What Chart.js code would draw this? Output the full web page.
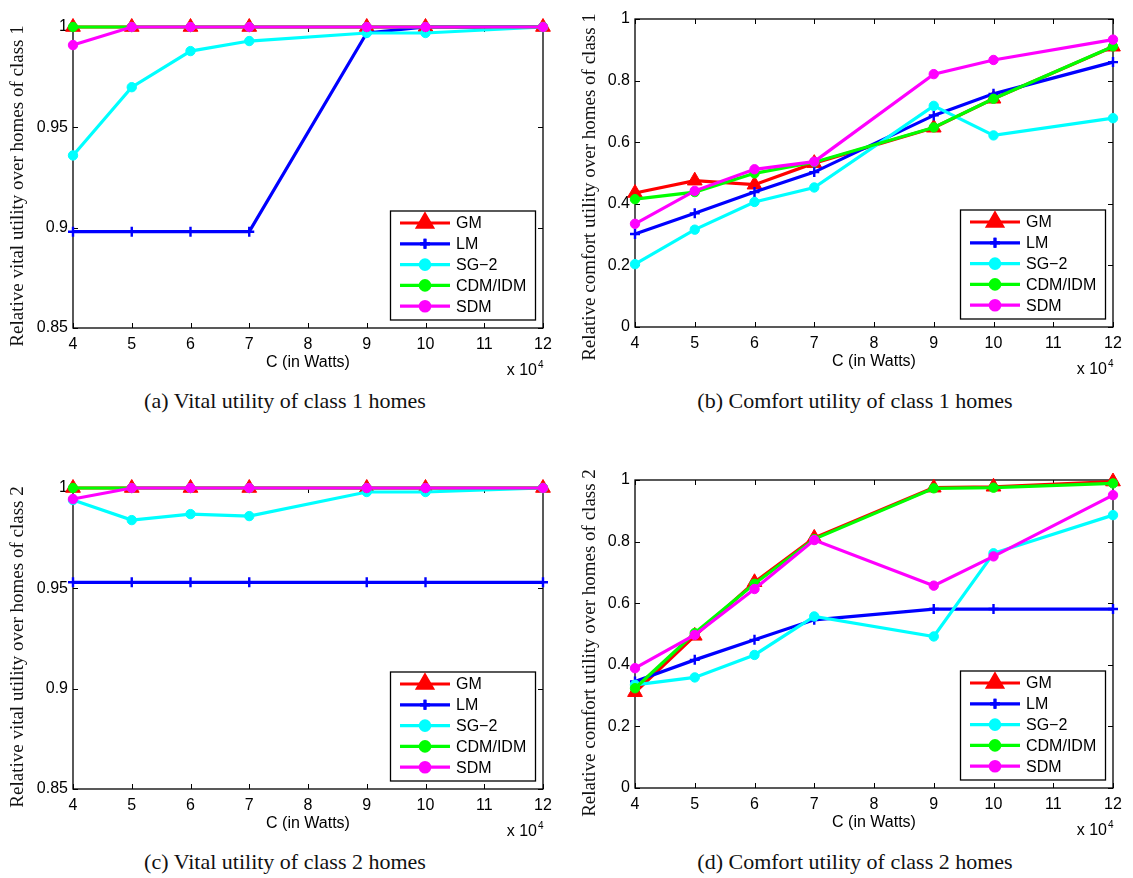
<!DOCTYPE html>
<html><head><meta charset="utf-8">
<script src="https://cdn.jsdelivr.net/npm/chart.js@4/dist/chart.umd.min.js"></script>
<style>
body{margin:0;background:#fff;width:1133px;height:878px;position:relative;overflow:hidden;}
.panel{position:absolute;}
canvas{display:block;}
.cap{position:absolute;font-family:"Liberation Serif",serif;font-size:22px;color:#111;white-space:nowrap;transform:translate(-50%,-50%);line-height:1;}
</style></head><body>
<div class="panel" style="left:0;top:0;width:566px;height:385px"><canvas id="ca" width="566" height="385"></canvas></div>
<div class="panel" style="left:566px;top:0;width:567px;height:385px"><canvas id="cb" width="567" height="385"></canvas></div>
<div class="panel" style="left:0;top:440px;width:566px;height:405px"><canvas id="cc" width="566" height="405"></canvas></div>
<div class="panel" style="left:566px;top:440px;width:567px;height:405px"><canvas id="cd" width="567" height="405"></canvas></div>
<div class="cap" style="left:285px;top:401px">(a) Vital utility of class 1 homes</div>
<div class="cap" style="left:855px;top:401px">(b) Comfort utility of class 1 homes</div>
<div class="cap" style="left:285px;top:862px">(c) Vital utility of class 2 homes</div>
<div class="cap" style="left:855px;top:862px">(d) Comfort utility of class 2 homes</div>
<script>
// ---- data ----
const xValues = [4, 5, 6, 7, 9, 10, 12];           // C in units of 10^4 W
const xTicks = [4, 5, 6, 7, 8, 9, 10, 11, 12];
const yTicksVital = [0.85, 0.9, 0.95, 1];
const yTicksComfort = [0, 0.2, 0.4, 0.6, 0.8, 1];
const seriesNames = ['GM', 'LM', 'SG\u22122', 'CDM/IDM', 'SDM'];

const vital1GM  = [1, 1, 1, 1, 1, 1, 1];
const vital1LM  = [0.898, 0.898, 0.898, 0.898, 0.997, 1, 1];
const vital1SG2 = [0.936, 0.970, 0.988, 0.993, 0.997, 0.997, 1];
const vital1CDM = [1, 1, 1, 1, 1, 1, 1];
const vital1SDM = [0.991, 1, 1, 1, 1, 1, 1];

const comfort1GM  = [0.435, 0.475, 0.462, 0.532, 0.647, 0.741, 0.910];
const comfort1LM  = [0.302, 0.369, 0.438, 0.503, 0.687, 0.757, 0.860];
const comfort1SG2 = [0.204, 0.316, 0.406, 0.453, 0.718, 0.622, 0.678];
const comfort1CDM = [0.415, 0.438, 0.499, 0.535, 0.648, 0.741, 0.911];
const comfort1SDM = [0.335, 0.442, 0.512, 0.537, 0.821, 0.867, 0.933];

const vital2GM  = [1, 1, 1, 1, 1, 1, 1];
const vital2LM  = [0.953, 0.953, 0.953, 0.953, 0.953, 0.953, 0.953];
const vital2SG2 = [0.994, 0.984, 0.987, 0.986, 0.998, 0.998, 1];
const vital2CDM = [1, 1, 1, 1, 1, 1, 1];
const vital2SDM = [0.9945, 1, 1, 1, 1, 1, 1];

const comfort2GM  = [0.311, 0.494, 0.668, 0.812, 0.975, 0.978, 0.995];
const comfort2LM  = [0.346, 0.416, 0.481, 0.546, 0.581, 0.581, 0.581];
const comfort2SG2 = [0.335, 0.359, 0.432, 0.557, 0.492, 0.762, 0.886];
const comfort2CDM = [0.324, 0.503, 0.663, 0.808, 0.973, 0.975, 0.989];
const comfort2SDM = [0.389, 0.497, 0.646, 0.805, 0.657, 0.752, 0.951];

// ---- styles ----
const styles = [
  {color:'#ff0000', point:'triangle', r:8.5, bw:1},
  {color:'#0000ff', point:'cross', r:5, bw:2.4},
  {color:'#00ffff', point:'circle', r:4.7, bw:1},
  {color:'#00ff00', point:'circle', r:4.7, bw:1},
  {color:'#ff00ff', point:'circle', r:4.7, bw:1}
];
const SANS = '"Liberation Sans", Arial, sans-serif';

Chart.defaults.font.family = SANS;
Chart.defaults.font.size = 16;
Chart.defaults.color = '#000';
Chart.defaults.animation = false;

const framePlugin = {
  id: 'frame',
  beforeDatasetsDraw(chart, args, opts) {
    const {ctx, chartArea: a} = chart;
    const xs = chart.scales.x, ys = chart.scales.y;
    ctx.save();
    ctx.strokeStyle = '#000';
    ctx.lineWidth = 1.3;
    ctx.strokeRect(a.left, a.top, a.right - a.left, a.bottom - a.top);
    ctx.beginPath();
    xTicks.forEach(v => {
      const px = Math.round(xs.getPixelForValue(v)) + 0.5;
      ctx.moveTo(px, a.bottom); ctx.lineTo(px, a.bottom - 5);
      ctx.moveTo(px, a.top); ctx.lineTo(px, a.top + 5);
    });
    opts.yTicks.forEach(v => {
      const py = Math.round(ys.getPixelForValue(v)) + 0.5;
      ctx.moveTo(a.left, py); ctx.lineTo(a.left + 5, py);
      ctx.moveTo(a.right, py); ctx.lineTo(a.right - 5, py);
    });
    ctx.lineWidth = 1;
    ctx.stroke();
    // x title
    ctx.fillStyle = '#000';
    ctx.font = '16px ' + SANS;
    ctx.textAlign = 'center'; ctx.textBaseline = 'middle';
    ctx.fillText('C (in Watts)', (a.left + a.right) / 2, a.bottom + 35);
    // x 10^4
    ctx.textAlign = 'right';
    ctx.fillText('x 10', a.right - 6, a.bottom + 43);
    ctx.font = '10px ' + SANS;
    ctx.textAlign = 'left';
    ctx.fillText('4', a.right - 5, a.bottom + 37);
    // y title
    ctx.save();
    ctx.translate(opts.titleX, opts.titleY);
    ctx.rotate(-Math.PI / 2);
    ctx.font = '19px "Liberation Serif", "Times New Roman", serif';
    ctx.textAlign = 'center'; ctx.textBaseline = 'middle';
    ctx.fillStyle = '#111';
    ctx.fillText(opts.yTitle, 0, 0);
    ctx.restore();
    ctx.restore();
  },
  afterDatasetsDraw(chart, args, opts) {
    const {ctx, chartArea: a} = chart;
    const w = 145, h = 109;
    const left = a.right - 8 - w, top = a.bottom - 8.5 - h;
    ctx.save();
    ctx.fillStyle = '#fff';
    ctx.fillRect(left, top, w, h);
    ctx.strokeStyle = '#000'; ctx.lineWidth = 1.3;
    ctx.strokeRect(left + 0.5, top + 0.5, w, h);
    seriesNames.forEach((name, i) => {
      const s = styles[i];
      const y = top + 12.5 + i * 20.8;
      ctx.strokeStyle = s.color; ctx.lineWidth = 3.2;
      ctx.beginPath(); ctx.moveTo(left + 10, y); ctx.lineTo(left + 60, y); ctx.stroke();
      ctx.fillStyle = s.color;
      Chart.helpers.drawPoint(ctx, {pointStyle: s.point, radius: s.r, borderWidth: s.bw, rotation: 0}, left + 35, y);
      ctx.lineWidth = s.bw;
      if (s.point === 'cross') { ctx.stroke(); } else { ctx.fill(); ctx.stroke(); }
      ctx.fillStyle = '#000';
      ctx.font = '16px ' + SANS;
      ctx.textAlign = 'left'; ctx.textBaseline = 'middle';
      ctx.fillText(name, left + 66, y + 1);
    });
    ctx.restore();
  }
};

function makeChart(id, W, H, area, series, yTicks, yTitle, titleX, titleY) {
  const datasets = series.map((vals, i) => {
    const s = styles[i];
    return {
      label: seriesNames[i],
      data: xValues.map((x, k) => ({x: x, y: vals[k]})),
      borderColor: s.color, backgroundColor: s.color,
      borderWidth: 3.2,
      pointStyle: s.point, pointRadius: s.r,
      pointBackgroundColor: s.color, pointBorderColor: s.color,
      pointBorderWidth: s.bw,
      tension: 0, clip: false,
      order: series.length - i
    };
  });
  return new Chart(document.getElementById(id), {
    type: 'line',
    data: {datasets},
    options: {
      responsive: false,
      maintainAspectRatio: false,
      layout: {padding: {top: area.t, right: W - area.r, left: 0, bottom: 0}},
      plugins: {
        legend: {display: false}, tooltip: {enabled: false},
        frame: {yTicks, yTitle, titleX, titleY}
      },
      scales: {
        x: {
          type: 'linear', min: 4, max: 12,
          grid: {display: false, drawTicks: false}, border: {display: false},
          ticks: {padding: 7, autoSkip: false, maxRotation: 0},
          afterBuildTicks: sc => { sc.ticks = xTicks.map(v => ({value: v})); },
          afterFit: sc => { sc.height = H - area.b; }
        },
        y: {
          type: 'linear', min: yTicks[0], max: yTicks[yTicks.length - 1],
          grid: {display: false, drawTicks: false}, border: {display: false},
          ticks: {padding: 5, callback: v => String(Number(v.toFixed(2)))},
          afterBuildTicks: sc => { sc.ticks = yTicks.map(v => ({value: v})); },
          afterFit: sc => { sc.width = area.l; }
        }
      }
    },
    plugins: [framePlugin]
  });
}

makeChart('ca', 566, 385, {l: 73, r: 543, t: 27, b: 328},
  [vital1GM, vital1LM, vital1SG2, vital1CDM, vital1SDM], yTicksVital,
  'Relative vital utility over homes of class 1', 18.5, 186);
makeChart('cb', 567, 385, {l: 69, r: 547, t: 19, b: 327},
  [comfort1GM, comfort1LM, comfort1SG2, comfort1CDM, comfort1SDM], yTicksComfort,
  'Relative comfort utility over homes of class 1', 24, 187);
makeChart('cc', 566, 405, {l: 73, r: 543, t: 48, b: 349},
  [vital2GM, vital2LM, vital2SG2, vital2CDM, vital2SDM], yTicksVital,
  'Relative vital utility over homes of class 2', 18.5, 207);
makeChart('cd', 567, 405, {l: 69, r: 547, t: 40, b: 348},
  [comfort2GM, comfort2LM, comfort2SG2, comfort2CDM, comfort2SDM], yTicksComfort,
  'Relative comfort utility over homes of class 2', 24, 203);
</script>
</body></html>
